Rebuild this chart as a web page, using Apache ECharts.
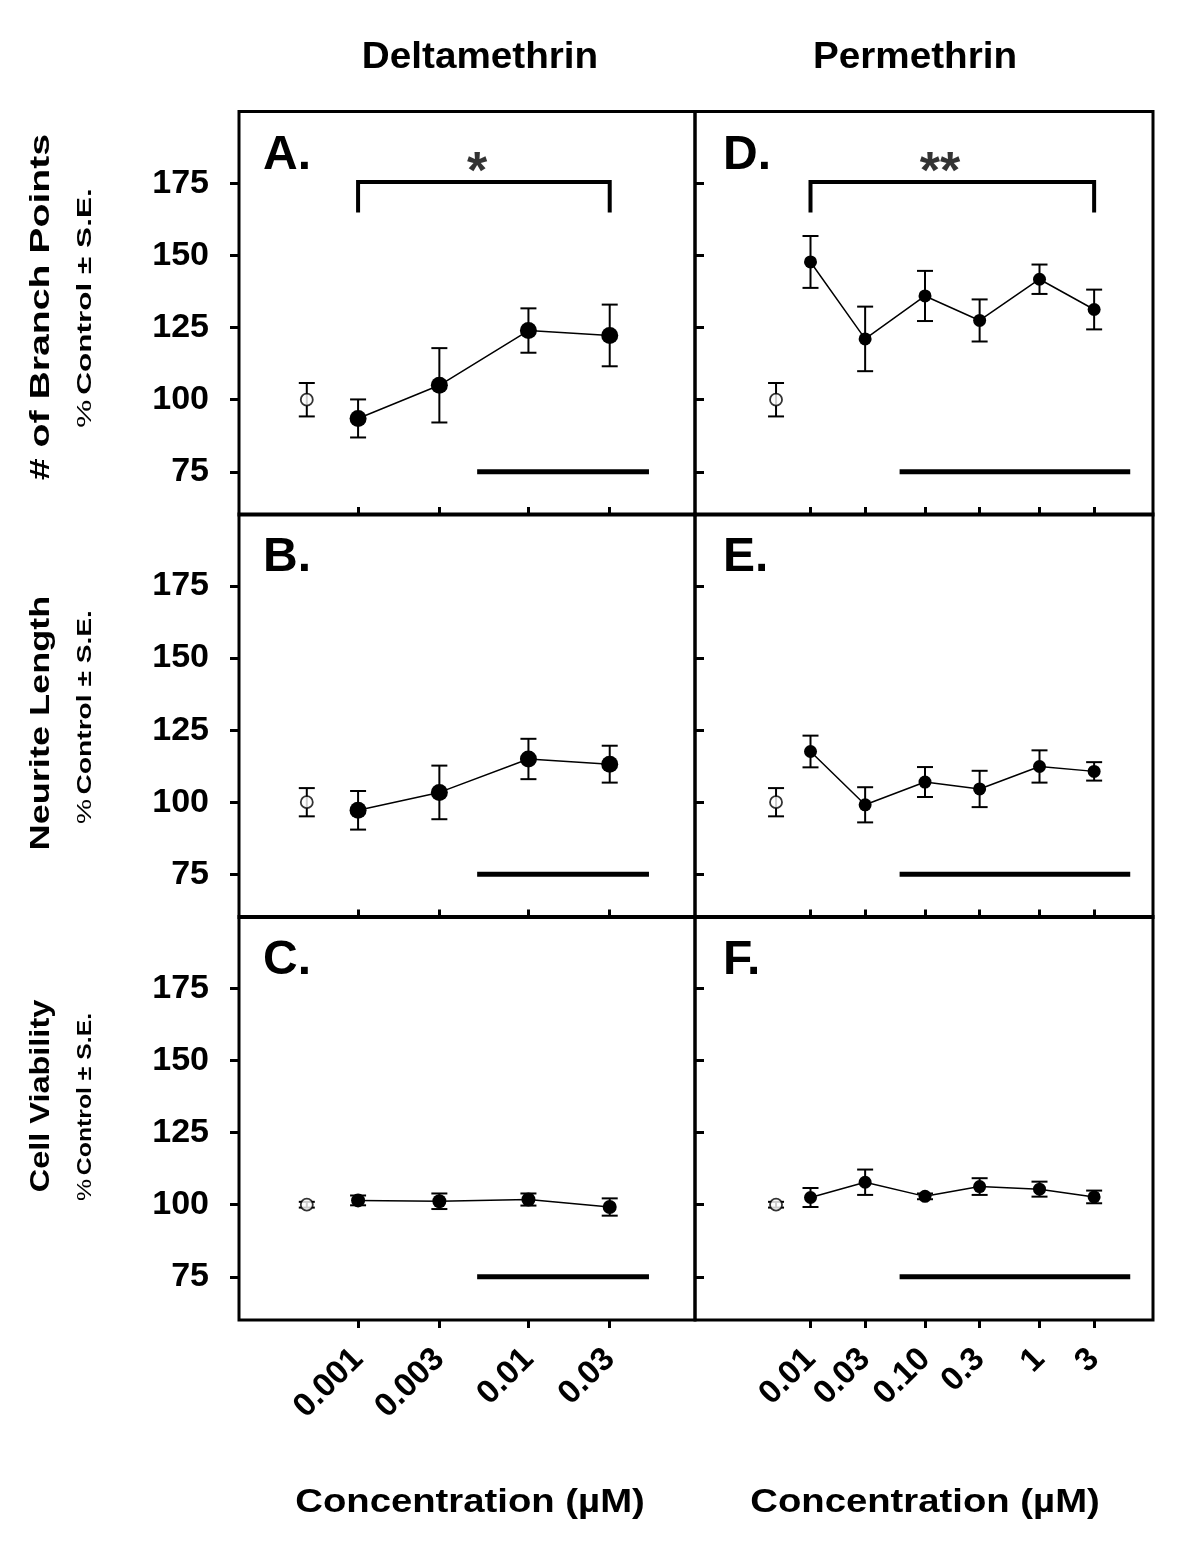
<!DOCTYPE html>
<html><head><meta charset="utf-8">
<script src="https://cdn.jsdelivr.net/npm/echarts@6.0.0/dist/echarts.min.js"></script>
<style>html,body{margin:0;padding:0;background:#fff;}#chart{width:1200px;height:1562px;}</style>
</head><body><div id="chart"></div>
<script>
// ---------------- data ----------------
const deltaConc = [0.001, 0.003, 0.01, 0.03];
const deltaTickLabels = ['0.001', '0.003', '0.01', '0.03'];
const permConc = [0.01, 0.03, 0.1, 0.3, 1, 3];
const permTickLabels = ['0.01', '0.03', '0.10', '0.3', '1', '3'];
const deltaControlConc = 0.0005;
const permControlConc = 0.005;
const controlMean = 100;
const controlSE = [5.8, 4.9, 1.0];            // branch points, neurite length, viability

const deltaBranchMean = [93.5, 105.0, 124.0, 122.3];
const deltaBranchSE   = [6.6, 12.9, 7.7, 10.7];
const deltaNeuriteMean = [97.2, 103.4, 115.0, 113.2];
const deltaNeuriteSE   = [6.7, 9.3, 7.0, 6.4];
const deltaViabilityMean = [101.5, 101.2, 101.8, 99.2];
const deltaViabilitySE   = [1.7, 2.7, 2.1, 3.0];

const permBranchMean = [147.8, 121.1, 136.0, 127.5, 141.8, 131.3];
const permBranchSE   = [9.0, 11.2, 8.7, 7.3, 5.1, 6.9];
const permNeuriteMean = [117.6, 99.1, 107.0, 104.6, 112.4, 110.7];
const permNeuriteSE   = [5.5, 6.1, 5.2, 6.3, 5.6, 3.2];
const permViabilityMean = [102.5, 107.8, 102.9, 106.3, 105.4, 102.7];
const permViabilitySE   = [3.3, 4.4, 1.0, 2.9, 2.6, 2.2];

const deltaBarRange = [0.005, 0.051];
const permBarRange = [0.06, 6.2];
const barLevel = 75;
const deltaBracket = [0.001, 0.03];
const permBracket = [0.01, 3];
const bracketLevels = [165, 175.5];
const starMarks = [{x: 0.005, y: 178.5, text: '*'}, {x: 0.135, y: 178.5, text: '**'}];
const yTickValues = [75, 100, 125, 150, 175];
const columnTitles = ['Deltamethrin', 'Permethrin'];
const rowNames = ['# of Branch Points', 'Neurite Length', 'Cell Viability'];
const panelLetters = [['A.', 'D.'], ['B.', 'E.'], ['C.', 'F.']];
const xName = 'Concentration (\u00B5M)';

// ---------------- layout ----------------
const FONT = '"Liberation Sans", Arial, Helvetica, sans-serif';
const colLeft = [239, 695], colWidth = [456, 458];
const rowTop = [111.5, 514, 916.5], rowH = 403.5;
const xRange = [[0.0002, 0.095], [0.00098, 9.8]];

const cols = [
  {conc: deltaConc, labels: deltaTickLabels, ctrl: deltaControlConc, bar: deltaBarRange, bracket: deltaBracket,
   means: [deltaBranchMean, deltaNeuriteMean, deltaViabilityMean], ses: [deltaBranchSE, deltaNeuriteSE, deltaViabilitySE]},
  {conc: permConc, labels: permTickLabels, ctrl: permControlConc, bar: permBarRange, bracket: permBracket,
   means: [permBranchMean, permNeuriteMean, permViabilityMean], ses: [permBranchSE, permNeuriteSE, permViabilitySE]}
];

const grids = [], xAxes = [], yAxes = [], series = [];

function errRender(capHalf) {
  return function (params, api) {
    const x = api.value(0), m = api.value(1), s = api.value(2);
    const t = api.coord([x, m + s]), b = api.coord([x, m - s]);
    const st = {stroke: '#000', lineWidth: 2};
    return {type: 'group', children: [
      {type: 'line', shape: {x1: t[0], y1: t[1], x2: b[0], y2: b[1]}, style: st},
      {type: 'line', shape: {x1: t[0] - capHalf, y1: t[1], x2: t[0] + capHalf, y2: t[1]}, style: st},
      {type: 'line', shape: {x1: b[0] - capHalf, y1: b[1], x2: b[0] + capHalf, y2: b[1]}, style: st}
    ]};
  };
}

for (let r = 0; r < 3; r++) {
  for (let c = 0; c < 2; c++) {
    const idx = grids.length;
    const C = cols[c];
    grids.push({left: colLeft[c], top: rowTop[r], width: colWidth[c], height: rowH,
      show: true, borderColor: '#000', borderWidth: 3, backgroundColor: 'transparent'});
    xAxes.push({type: 'log', logBase: 10, gridIndex: idx, min: xRange[c][0], max: xRange[c][1],
      axisLine: {show: false}, splitLine: {show: false},
      axisTick: {show: true, inside: r < 2, length: 8, lineStyle: {color: '#000', width: 3}, customValues: C.conc},
      axisLabel: {show: r === 2, customValues: C.conc, rotate: 45, margin: 34, color: '#000',
        fontSize: 33, fontWeight: 'bold', fontFamily: FONT,
        formatter: function (v) {
          let best = 0, bd = 1e9;
          C.conc.forEach((cc, i) => { const d = Math.abs(Math.log10(cc) - Math.log10(v)); if (d < bd) { bd = d; best = i; } });
          return C.labels[best];
        }}
    });
    yAxes.push({type: 'value', gridIndex: idx, min: 60, max: 200,
      axisLine: {show: false}, splitLine: {show: false},
      axisTick: {show: true, inside: c === 1, length: 9, lineStyle: {color: '#000', width: 3}, customValues: yTickValues},
      axisLabel: {show: c === 0, customValues: yTickValues, margin: 30, color: '#000',
        fontSize: 34, fontWeight: 'bold', fontFamily: FONT}
    });
    const mean = C.means[r], se = C.ses[r];
    const markerSize = c === 0 ? (r < 2 ? 17 : 14) : 13;
    series.push({type: 'custom', xAxisIndex: idx, yAxisIndex: idx, z: 2, silent: true,
      renderItem: errRender(8), encode: {x: 0, y: 1},
      data: C.conc.map((cc, i) => [cc, mean[i], se[i]]).concat([[C.ctrl, controlMean, controlSE[r]]])});
    series.push({type: 'line', xAxisIndex: idx, yAxisIndex: idx, z: 3, silent: true,
      data: C.conc.map((cc, i) => [cc, mean[i]]),
      symbol: 'circle', symbolSize: markerSize, showSymbol: true,
      itemStyle: {color: '#000'}, lineStyle: {color: '#000', width: 1.5}});
    series.push({type: 'scatter', xAxisIndex: idx, yAxisIndex: idx, z: 4, silent: true,
      data: [[C.ctrl, controlMean]], symbol: 'circle', symbolSize: 12,
      itemStyle: {color: '#fff', borderColor: '#000', borderWidth: 1.8}});
    series.push({type: 'line', xAxisIndex: idx, yAxisIndex: idx, z: 2, silent: true,
      data: [[C.bar[0], barLevel], [C.bar[1], barLevel]], symbol: 'none',
      lineStyle: {color: '#000', width: 5, cap: 'butt'}});
    if (r === 0) {
      series.push({type: 'line', xAxisIndex: idx, yAxisIndex: idx, z: 2, silent: true,
        data: [[C.bracket[0], bracketLevels[0]], [C.bracket[0], bracketLevels[1]],
               [C.bracket[1], bracketLevels[1]], [C.bracket[1], bracketLevels[0]]],
        symbol: 'none', lineStyle: {color: '#000', width: 4, join: 'miter', cap: 'butt'}});
      const sm = starMarks[c];
      series.push({type: 'scatter', xAxisIndex: idx, yAxisIndex: idx, z: 5, silent: true,
        data: [[sm.x, sm.y]], symbolSize: 1, itemStyle: {color: 'rgba(0,0,0,0)'},
        label: {show: true, position: 'inside', formatter: sm.text, color: '#000',
          fontSize: 52, fontWeight: 'bold', fontFamily: FONT}});
    }
  }
}

// ---------------- text ----------------
const graphic = [];
const colCenter = [480, 915];
columnTitles.forEach((t, c) => graphic.push({type: 'text', x: colCenter[c], y: 58, scaleX: 1.045,
  style: {text: t, font: 'bold 37px ' + FONT, fill: '#000', textAlign: 'center', textVerticalAlign: 'middle'}}));
const xNameCenter = [470, 925];
xNameCenter.forEach(cx => graphic.push({type: 'text', x: cx, y: 1503, scaleX: 1.16,
  style: {text: xName, font: 'bold 33px ' + FONT, fill: '#000', textAlign: 'center', textVerticalAlign: 'middle'}}));
const letterX = [263, 723];
for (let r = 0; r < 3; r++) for (let c = 0; c < 2; c++) {
  graphic.push({type: 'text', x: letterX[c], y: rowTop[r] + 44,
    style: {text: panelLetters[r][c], font: 'bold 48px ' + FONT, fill: '#000', textAlign: 'left', textVerticalAlign: 'middle'}});
}
const nameCenterY = [307, 723, 1096];
const nameScale = [1.40, 1.29, 1.16];
const subCenterY = [308, 717, 1107];
const subScale = [1.50, 1.34, 1.18];
for (let r = 0; r < 3; r++) {
  graphic.push({type: 'text', x: 41, y: nameCenterY[r], rotation: Math.PI / 2, scaleX: nameScale[r],
    style: {text: rowNames[r], font: 'bold 28px ' + FONT, fill: '#000', textAlign: 'center', textVerticalAlign: 'middle'}});
  graphic.push({type: 'text', x: 85, y: subCenterY[r], rotation: Math.PI / 2, scaleX: subScale[r],
    style: {text: '{p|%} {b|Control \u00B1 S.E.}', textAlign: 'center', textVerticalAlign: 'middle',
      rich: {p: {font: '21px ' + FONT, fill: '#000'}, b: {font: 'bold 21px ' + FONT, fill: '#000'}}}});
}

const chart = echarts.init(document.getElementById('chart'), null, {renderer: 'canvas'});
chart.setOption({animation: false, backgroundColor: '#fff',
  grid: grids, xAxis: xAxes, yAxis: yAxes, series: series, graphic: graphic});
</script></body></html>
